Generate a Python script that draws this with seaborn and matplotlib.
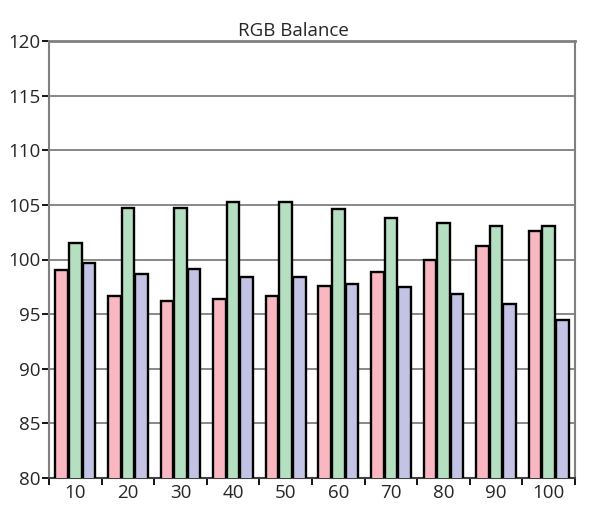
import matplotlib
matplotlib.use("Agg")
import matplotlib.pyplot as plt
import seaborn as sns
import pandas as pd
import numpy as np

levels = ["10", "20", "30", "40", "50", "60", "70", "80", "90", "100"]
red = [99.0, 96.7, 96.2, 96.4, 96.7, 97.6, 98.9, 100.0, 101.2, 102.6]
green = [101.5, 104.75, 104.75, 105.25, 105.25, 104.6, 103.8, 103.35, 103.05, 103.05]
blue = [99.65, 98.7, 99.15, 98.4, 98.4, 97.8, 97.5, 96.85, 95.9, 94.5]
channels = ["Red", "Green", "Blue"]
colors = ["#F9B8C1", "#B4DFC0", "#C3C3E6"]
yticks = [80, 85, 90, 95, 100, 105, 110, 115, 120]

df = pd.DataFrame({
    "level": levels * 3,
    "channel": [c for c in channels for _ in levels],
    "value": red + green + blue,
})

sns.set_style("white")
plt.rcParams["font.family"] = ["Open Sans", "DejaVu Sans"]

fig = plt.figure(figsize=(6.0, 5.18), dpi=100)
ax = fig.add_axes([49/600, 40/518, 526/600, 437/518])

sns.barplot(data=df, x="level", y="value", hue="channel", order=levels,
            hue_order=channels, palette=colors, saturation=1, width=0.78, gap=0.08,
            edgecolor="black", linewidth=1.7, legend=False, ax=ax, zorder=3)

ax.set_ylim(80, 120)
ax.set_xlim(-0.5, len(levels) - 0.5)
ax.set_yticks(yticks)
ax.set_yticklabels([str(t) for t in yticks], fontsize=13.5)
ax.yaxis.grid(True, color="#7f7f7f", linewidth=1.3, zorder=0)
ax.set_axisbelow(True)
ax.set_xlabel("")
ax.set_ylabel("")
ax.set_title("RGB Balance", fontsize=13.5, pad=3.5, x=0.464)

ax.tick_params(axis="y", which="major", direction="out", length=5, width=1.3,
               color="black", left=True, pad=1)
ax.set_xticks(range(len(levels)))
ax.set_xticklabels(levels, fontsize=13.5)
ax.tick_params(axis="x", which="major", length=0, pad=4)
ax.set_xticks(np.arange(-0.5, len(levels), 1.0), minor=True)
ax.tick_params(axis="x", which="minor", direction="out", length=5, width=1.3,
               color="black", bottom=True)

for side in ["top", "right", "left"]:
    ax.spines[side].set_color("#808080")
    ax.spines[side].set_linewidth(1.5)
ax.spines["top"].set_linewidth(2)
ax.spines["bottom"].set_color("#404040")
ax.spines["bottom"].set_linewidth(1.5)

fig.savefig("out.png", dpi=100)
